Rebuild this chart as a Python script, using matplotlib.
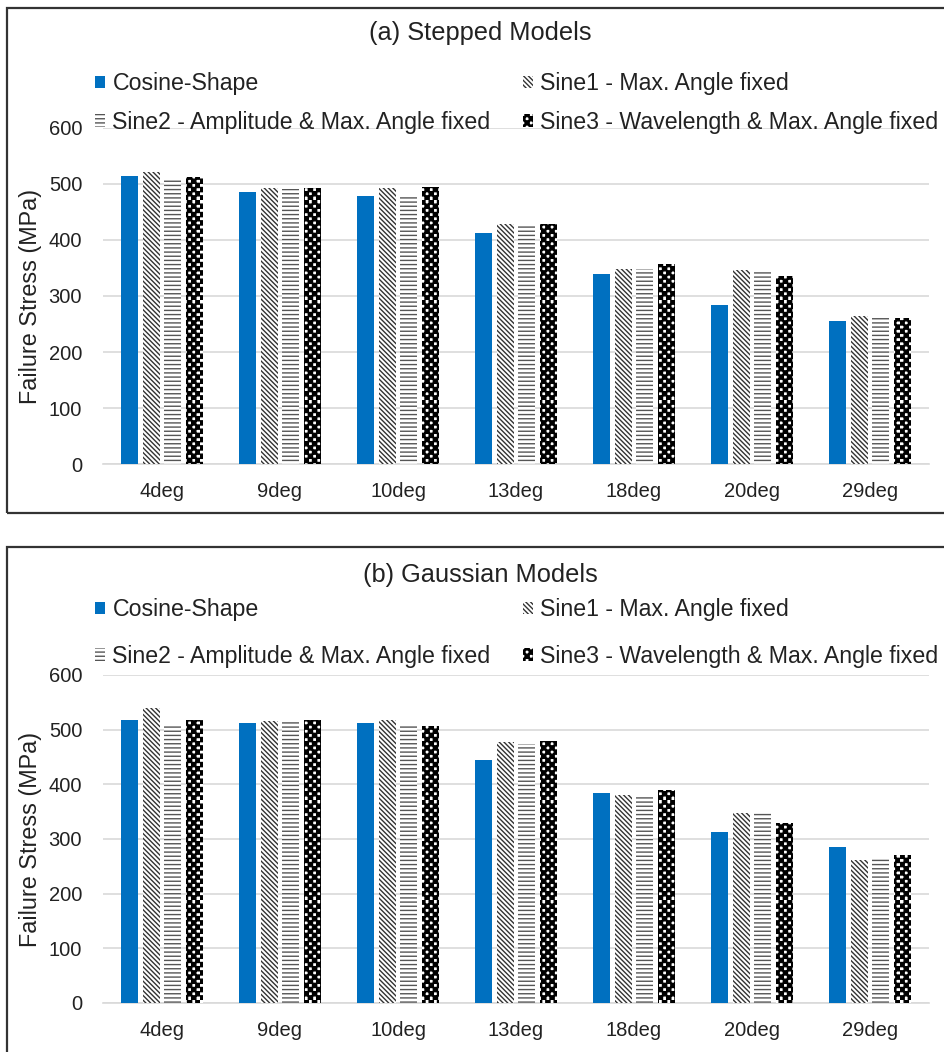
import matplotlib.pyplot as plt
import matplotlib.hatch as mhatch
from matplotlib.path import Path
from matplotlib.patches import Rectangle, Patch
import numpy as np

plt.rcParams['font.family'] = ['Liberation Sans', 'DejaVu Sans']
plt.rcParams['hatch.linewidth'] = 1.0

# -----------------------------------
# Data
# -----------------------------------
categories = ["4deg", "9deg", "10deg", "13deg", "18deg", "20deg", "29deg"]
series_names = ["Cosine-Shape", "Sine1 - Max. Angle fixed",
                "Sine2 - Amplitude & Max. Angle fixed",
                "Sine3 - Wavelength & Max. Angle fixed"]

stepped_cosine = [514, 486, 479, 412, 339, 284, 255]
stepped_sine1 = [521, 493, 493, 429, 348, 346, 264]
stepped_sine2 = [511, 491, 479, 425, 348, 343, 264]
stepped_sine3 = [512, 493, 495, 429, 357, 336, 261]

gauss_cosine = [517, 512, 512, 445, 385, 313, 285]
gauss_sine1 = [539, 516, 517, 477, 381, 347, 261]
gauss_sine2 = [508, 516, 506, 474, 377, 347, 263]
gauss_sine3 = [517, 517, 506, 479, 390, 330, 270]

yticks = [0, 100, 200, 300, 400, 500, 600]


# -----------------------------------
# Checkerboard hatch (replaces the 'O' circles pattern)
# -----------------------------------
class Checker(mhatch.HatchPatternBase):
    def __init__(self, hatch, density):
        self.n = int(hatch.count('O') * density)
        if self.n % 2:
            self.n += 1
        self.num_squares = self.n * self.n // 2
        self.num_vertices = self.num_squares * 5

    def set_vertices_and_codes(self, vertices, codes):
        s = 1.0 / self.n
        k = 0
        for i in range(self.n):
            for j in range(self.n):
                if (i + j) % 2:
                    continue
                x0, y0 = j * s, i * s
                vertices[k:k + 5] = [(x0, y0), (x0 + s, y0), (x0 + s, y0 + s),
                                     (x0, y0 + s), (x0, y0)]
                codes[k:k + 5] = [Path.MOVETO, Path.LINETO, Path.LINETO,
                                  Path.LINETO, Path.CLOSEPOLY]
                k += 5


mhatch._hatch_types = [Checker if t is mhatch.LargeCircles else t
                       for t in mhatch._hatch_types]

# -----------------------------------
# Bar styles
# -----------------------------------
styles = [
    dict(facecolor="#0070C0", edgecolor="#0070C0", hatch=None),
    dict(facecolor="white", edgecolor="#333333", hatch="\\" * 7),
    dict(facecolor="white", edgecolor="#555555", hatch="-" * 4),
    dict(facecolor="white", edgecolor="black", hatch="O" * 4),
]

W, H = 944, 1052
fig = plt.figure(figsize=(W / 100, H / 100), dpi=100)


def px_axes(left, right, top, bottom):
    return fig.add_axes([left / W, 1 - bottom / H, (right - left) / W, (bottom - top) / H])


def draw_panel(ax, data, title, title_y, legend_y, label_sp):
    x = np.arange(len(categories)) + 0.5
    width = 0.144
    step = 0.182
    for k, vals in enumerate(data):
        st = styles[k]
        ax.bar(x + (k - 1.5) * step, vals, width, facecolor=st["facecolor"],
               edgecolor=st["edgecolor"], hatch=st["hatch"], linewidth=0,
               zorder=3)
    ax.set_xlim(0, len(categories))
    ax.set_ylim(0, 600)
    ax.set_yticks(yticks)
    ax.set_xticks(x)
    ax.set_xticklabels(categories)
    ax.tick_params(length=0, labelsize=14.5, colors="#222222")
    ax.tick_params(axis="x", pad=13)
    ax.tick_params(axis="y", pad=15)
    ax.grid(axis="y", color="#d9d9d9", lw=1.2, zorder=0)
    for s in ["top", "right", "left"]:
        ax.spines[s].set_visible(False)
    ax.spines["bottom"].set_color("#d9d9d9")
    ax.spines["bottom"].set_linewidth(1.2)
    ax.set_ylabel("Failure Stress (MPa)", fontsize=16.8, color="#222222", labelpad=5)

    fig.text(480 / W, 1 - title_y / H, title, ha="center", va="center",
             fontsize=18.3, color="#222222")

    handles = []
    for k in range(4):
        st = styles[k]
        handles.append(Patch(facecolor=st["facecolor"], edgecolor=st["edgecolor"],
                             hatch=st["hatch"], linewidth=0, label=series_names[k]))
    order = [0, 2, 1, 3]
    fig.legend([handles[i] for i in order], [series_names[i] for i in order],
               ncol=2, loc="upper left", bbox_to_anchor=(95 / W, 1 - legend_y / H),
               frameon=False, fontsize=16.7, handlelength=0.45, handleheight=0.45,
               handletextpad=0.3, columnspacing=1.4, labelspacing=label_sp,
               borderaxespad=0, borderpad=0, labelcolor="#222222")


# -----------------------------------
# Panel borders
# -----------------------------------
for top, bot in [(8, 513), (547, 1060)]:
    fig.patches.append(Rectangle((7 / W, 1 - bot / H), (W + 10) / W, (bot - top) / H,
                                 transform=fig.transFigure, fill=False,
                                 edgecolor="#333333", lw=1.6))

ax1 = px_axes(103, 929, 128, 464)
draw_panel(ax1, [stepped_cosine, stepped_sine1, stepped_sine2, stepped_sine3],
           "(a) Stepped Models", 33, 72, 0.68)

ax2 = px_axes(103, 929, 675, 1003)
draw_panel(ax2, [gauss_cosine, gauss_sine1, gauss_sine2, gauss_sine3],
           "(b) Gaussian Models", 575, 598, 1.03)

fig.savefig("out.png", dpi=100)
